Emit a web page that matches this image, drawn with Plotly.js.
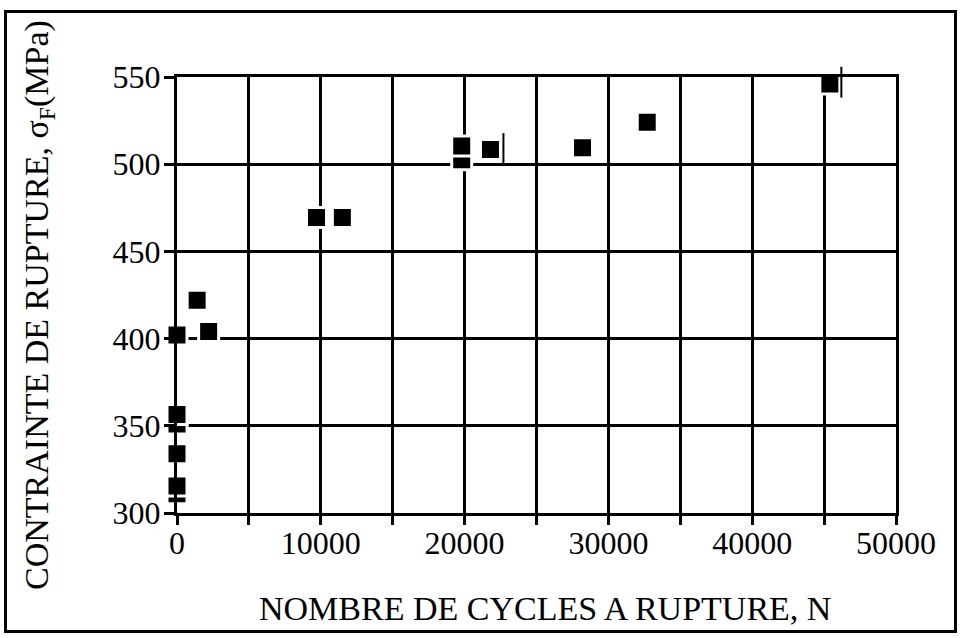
<!DOCTYPE html>
<html>
<head>
<meta charset="utf-8">
<script src="https://cdn.plot.ly/plotly-3.0.1.min.js"></script>
<style>
  html, body { margin: 0; padding: 0; background: #fff; }
  #frame { position: absolute; left: 4px; top: 10px; width: 953px; height: 623px; border: 3px solid #000; box-sizing: border-box; }
  #chart { position: absolute; left: 0; top: 0; width: 964px; height: 638px; }
</style>
</head>
<body>
<div id="frame"></div>
<div id="chart"></div>
<script>
// Fatigue data: number of cycles to rupture vs rupture stress (MPa)
// partly hidden squares (drawn first, overlapped by the next ones)
const hiddenCycles = [0, 0, 19800];
const hiddenStress = [351, 311, 502.5];
// visible squares
const cycles = [0, 1400, 2200, 0, 0, 0, 9700, 11500, 19800, 21800, 28200, 32700, 45400];
const stress = [402, 422, 404, 356.5, 334, 315.5, 469.5, 469.5, 510.5, 508.5, 509.5, 524, 546];
// run-out markers (vertical bars)
const runoutCycles = [22700, 46200];
const runoutStress = [509, 547];

const xTickVals = [0, 5000, 10000, 15000, 20000, 25000, 30000, 35000, 40000, 45000, 50000];
const xTickText = ['0', '', '10000', '', '20000', '', '30000', '', '40000', '', '50000'];
const yTickVals = [300, 350, 400, 450, 500, 550];

const serif = 'Liberation Serif, Times New Roman, serif';

const sq = {
  type: 'scatter', mode: 'markers', cliponaxis: false, hoverinfo: 'skip',
  marker: { symbol: 'square', size: 20, color: '#000', line: { color: '#fff', width: 3 } }
};

const traces = [
  Object.assign({}, sq, { x: hiddenCycles, y: hiddenStress }),
  Object.assign({}, sq, { x: cycles, y: stress }),
  { type: 'scatter', mode: 'markers', cliponaxis: false, hoverinfo: 'skip',
    x: runoutCycles, y: runoutStress,
    marker: { symbol: 'line-ns', size: 22, color: '#000', line: { color: '#000', width: 2 } } }
];

const axisCommon = {
  showline: true, mirror: true, linecolor: '#000', linewidth: 3,
  showgrid: true, gridcolor: '#000', gridwidth: 3,
  zeroline: false, ticks: 'outside', tickcolor: '#000', tickwidth: 3,
  tickfont: { family: serif, size: 32, color: '#000' }
};

const layout = {
  width: 964, height: 638,
  margin: { l: 177, r: 68, t: 77, b: 125 },
  paper_bgcolor: 'rgba(0,0,0,0)', plot_bgcolor: '#fff',
  showlegend: false,
  xaxis: Object.assign({}, axisCommon, {
    range: [0, 50000], tickmode: 'array', tickvals: xTickVals, ticktext: xTickText,
    ticklen: 9, ticklabelstandoff: -9
  }),
  yaxis: Object.assign({}, axisCommon, {
    range: [300, 550], tickmode: 'array', tickvals: yTickVals, ticklen: 10, ticklabelstandoff: -3
  }),
  annotations: [
    { xref: 'paper', yref: 'paper', x: 0.512, y: -0.218, xanchor: 'center', yanchor: 'middle',
      showarrow: false, text: 'NOMBRE DE CYCLES A RUPTURE, N',
      font: { family: serif, size: 34, color: '#000' } },
    { xref: 'paper', yref: 'paper', x: -0.192, y: 0.477, xanchor: 'center', yanchor: 'middle',
      showarrow: false, textangle: -90, text: 'CONTRAINTE DE RUPTURE, σ<sub>F</sub>(MPa)',
      font: { family: serif, size: 34, color: '#000' } }
  ]
};

Plotly.newPlot('chart', traces, layout, { staticPlot: true });
</script>
</body>
</html>
